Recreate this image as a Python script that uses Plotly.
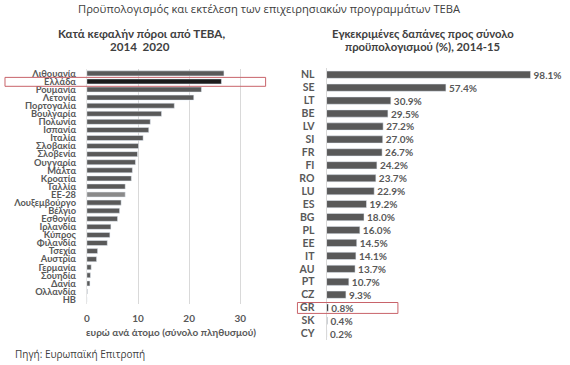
import plotly.graph_objects as go

W, H = 570, 365

left_countries = ['Λιθουανία', 'Ελλάδα', 'Ρουμανία', 'Λετονία', 'Πορτογαλία', 'Βουλγαρία',
                  'Πολωνία', 'Ισπανία', 'Ιταλία', 'Σλοβακία', 'Σλοβενία', 'Ουγγαρία', 'Μάλτα',
                  'Κροατία', 'Γαλλία', 'ΕΕ-28', 'Λουξεμβούργο', 'Βέλγιο', 'Εσθονία', 'Ιρλανδία',
                  'Κύπρος', 'Φιλανδία', 'Τσεχία', 'Αυστρία', 'Γερμανία', 'Σουηδία', 'Δανία',
                  'Ολλανδία', 'ΗΒ']
left_values = [26.8, 26.3, 22.4, 20.9, 17.1, 14.6, 12.4, 12.1, 11.0, 10.1, 9.9, 9.5, 8.9,
               8.7, 7.5, 7.5, 6.7, 6.4, 6.0, 4.7, 4.5, 4.0, 2.1, 1.9, 0.85, 0.7, 0.6, 0.1, 0.0]
left_ticks = [0, 10, 20, 30]

right_codes = ['NL', 'SE', 'LT', 'BE', 'LV', 'SI', 'FR', 'FI', 'RO', 'LU', 'ES', 'BG', 'PL',
               'EE', 'IT', 'AU', 'PT', 'CZ', 'GR', 'SK', 'CY']
right_values = [98.1, 57.4, 30.9, 29.5, 27.2, 27.0, 26.7, 24.2, 23.7, 22.9, 19.2, 18.0, 16.0,
                14.5, 14.1, 13.7, 10.7, 9.3, 0.8, 0.4, 0.2]

GRAY = '#595959'
TXT = '#595959'
BOLD_FONT = 'Lato'

def px_x(p):
    return p / W

def px_y(p):
    return 1 - p / H

left_colors = []
for c in left_countries:
    if c == 'Ελλάδα':
        left_colors.append('#1c1c1c')
    elif c == 'ΕΕ-28':
        left_colors.append('#8a8a8a')
    else:
        left_colors.append(GRAY)

right_colors = ['#222222' if c == 'GR' else GRAY for c in right_codes]

fig = go.Figure()
fig.add_trace(go.Bar(
    x=left_values, y=left_countries, orientation='h', marker_color=left_colors,
    width=0.62, xaxis='x', yaxis='y', showlegend=False, hoverinfo='x+y'))
fig.add_trace(go.Bar(
    x=right_values, y=right_codes, orientation='h', marker_color=right_colors,
    width=0.56, xaxis='x2', yaxis='y2', showlegend=False,
    texttemplate='%{x:.1f}%', textposition='outside', cliponaxis=False,
    constraintext='none',
    textfont=dict(family=BOLD_FONT, size=10, color=TXT, weight='bold')))

fig.update_layout(
    width=W, height=H, margin=dict(l=0, r=0, t=0, b=0),
    paper_bgcolor='white', plot_bgcolor='white',
    bargap=0.3,
    xaxis=dict(domain=[px_x(84.3), px_x(290)], range=[0, 40], tickvals=left_ticks,
               showgrid=True, gridcolor='#d9d9d9', gridwidth=1, zeroline=False,
               showline=False, ticks='', ticklabelstandoff=7,
               tickfont=dict(family=BOLD_FONT, size=10, color=TXT, weight='bold'),
               anchor='y', fixedrange=True),
    yaxis=dict(domain=[px_y(304.1), px_y(67.9)], autorange='reversed',
               categoryorder='array', categoryarray=left_countries,
               tickmode='linear', dtick=1,
               showgrid=False, zeroline=False, showline=True, linecolor='#e6e6e6',
               ticks='', ticklabelstandoff=8,
               tickfont=dict(family=BOLD_FONT, size=9.3, color=TXT, weight='bold'),
               anchor='x', fixedrange=True),
    xaxis2=dict(domain=[px_x(325.3), px_x(555.2)], range=[0, 110],
                showgrid=False, zeroline=False, showline=False, showticklabels=False,
                ticks='', anchor='y2', fixedrange=True),
    yaxis2=dict(domain=[px_y(340.8), px_y(66.8)], autorange='reversed',
                categoryorder='array', categoryarray=right_codes,
                tickmode='linear', dtick=1,
                showgrid=False, zeroline=False, showline=True, linecolor='#d9d9d9',
                ticks='', ticklabelstandoff=9,
                tickfont=dict(family=BOLD_FONT, size=10.5, color=TXT, weight='bold'),
                anchor='x2', fixedrange=True),
)

anns = [
    dict(text='Προϋπολογισμός και εκτέλεση των επιχειρησιακών προγραμμάτων ΤΕΒΑ',
         x=px_x(268), y=px_y(7), font=dict(family='Open Sans', size=11.2, color='#404040')),
    dict(text='Κατά κεφαλήν πόροι από ΤΕΒΑ,', x=px_x(139.5), y=px_y(32),
         font=dict(family=BOLD_FONT, size=11.6, color='#404040', weight='bold')),
    dict(text='2014  2020', x=px_x(138), y=px_y(45),
         font=dict(family=BOLD_FONT, size=11.6, color='#404040', weight='bold')),
    dict(text='Εγκεκριμένες δαπάνες προς σύνολο', x=px_x(422), y=px_y(32),
         font=dict(family=BOLD_FONT, size=11.3, color='#404040', weight='bold')),
    dict(text='προϋπολογισμού (%), 2014-15', x=px_x(421.5), y=px_y(45),
         font=dict(family=BOLD_FONT, size=11.3, color='#404040', weight='bold')),
    dict(text='ευρώ ανά άτομο (σύνολο πληθυσμού)', x=px_x(169), y=px_y(333),
         font=dict(family=BOLD_FONT, size=10, color=TXT, weight='bold')),
    dict(text='Πηγή: Ευρωπαϊκή Επιτροπή', x=px_x(10), y=px_y(355), xanchor='left',
         font=dict(family='Open Sans', size=10, color='#404040')),
]
for a in anns:
    a.setdefault('xanchor', 'center')
    a.update(xref='paper', yref='paper', yanchor='middle', showarrow=False)
    fig.add_annotation(**a)

box = dict(type='rect', xref='paper', yref='paper', line=dict(color='#c8636a', width=1),
           fillcolor='rgba(0,0,0,0)')
fig.add_shape(**box, x0=px_x(2), x1=px_x(264), y0=px_y(85), y1=px_y(76))
fig.add_shape(**box, x0=px_x(296), x1=px_x(397), y0=px_y(314), y1=px_y(303))

fig.write_html('out.html', config={'displayModeBar': False},
               post_script="document.body.style.margin='0';")
